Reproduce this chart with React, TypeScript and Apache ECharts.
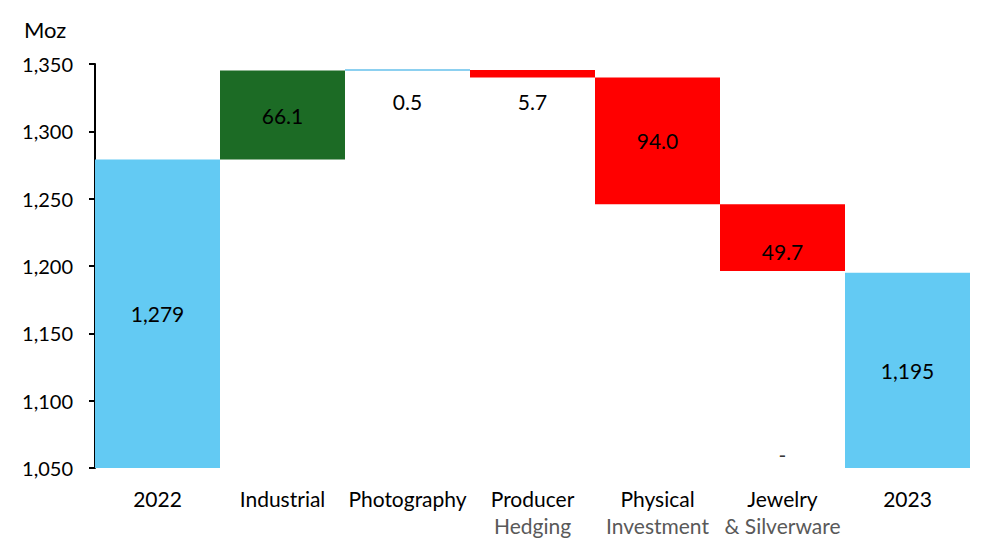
import React, { useEffect, useRef } from "react";
import * as echarts from "echarts";

const categories = ["2022", "Industrial", "Photography", "Producer\nHedging", "Physical\nInvestment", "Jewelry\n& Silverware", "2023"];
const startValue = 1279;
const changes = [66.1, 0.5, -5.7, -94.0, -49.7];
const endValue = 1195;
const changeLabels = ["66.1", "0.5", "5.7", "94.0", "49.7"];
const yTicks = [1050, 1100, 1150, 1200, 1250, 1300, 1350];
const dashMarker = { category: "Jewelry\n& Silverware", value: 1060, text: "-" };

const BLUE = "#63CAF3";
const GREEN = "#1C6B25";
const RED = "#FF0000";
const THIN = "#1BA1E2";
const FONT = "Lato";

export default function App() {
  const ref = useRef<HTMLDivElement>(null);
  useEffect(() => {
    document.body.style.margin = "0";
    const chart = echarts.init(ref.current!, null, { renderer: "svg" });

    const base: any[] = [];
    const vis: any[] = [];
    base.push(0);
    vis.push({
      value: startValue,
      itemStyle: { color: BLUE },
      label: { show: true, position: "inside", formatter: "1,279" },
    });
    let running = startValue;
    changes.forEach((c, i) => {
      const lo = c >= 0 ? running : running + c;
      running += c;
      base.push(lo);
      const color = c >= 0 ? (Math.abs(c) < 1 ? THIN : GREEN) : RED;
      const small = Math.abs(c) < 10;
      const item: any = {
        value: Math.abs(c),
        itemStyle: { color },
        label: small
          ? { show: true, position: "bottom", distance: c >= 0 ? 20 : 13, formatter: changeLabels[i] }
          : { show: true, position: "inside", formatter: changeLabels[i], offset: i === 4 ? [0, 14] : [0, 0] },
      };
      vis.push(item);
    });
    base.push(0);
    vis.push({
      value: endValue,
      itemStyle: { color: BLUE },
      label: { show: true, position: "inside", formatter: "1,195" },
    });

    chart.setOption({
      animation: false,
      textStyle: { fontFamily: FONT },
      title: {
        text: "Moz",
        left: 19,
        top: 13,
        textStyle: { fontFamily: FONT, fontSize: 22, fontWeight: "normal", color: "#000" },
      },
      grid: { left: 95, right: 14, top: 64, bottom: 70 },
      xAxis: {
        type: "category",
        data: categories,
        axisLine: { show: false },
        axisTick: { show: false },
        axisLabel: {
          interval: 0,
          margin: 17,
          formatter: (v: string) => {
            const parts = v.split("\n");
            return parts.length > 1 ? `{a|${parts[0]}}\n{b|${parts[1]}}` : `{a|${parts[0]}}`;
          },
          rich: {
            a: { fontFamily: FONT, fontSize: 21, color: "#000", lineHeight: 27 },
            b: { fontFamily: FONT, fontSize: 21, color: "#595959", lineHeight: 27 },
          },
        },
      },
      yAxis: {
        type: "value",
        min: yTicks[0],
        max: yTicks[yTicks.length - 1],
        interval: 50,
        splitLine: { show: false },
        axisLine: { show: true, lineStyle: { color: "#000", width: 2 } },
        axisTick: { show: true, length: 6, lineStyle: { color: "#000", width: 2 } },
        axisLabel: {
          margin: 22,
          color: "#000",
          fontFamily: FONT,
          fontSize: 20,
          formatter: (v: number) => v.toLocaleString("en-US"),
        },
      },
      series: [
        {
          type: "bar",
          stack: "w",
          data: base,
          barWidth: "100%",
          itemStyle: { color: "transparent" },
          silent: true,
        },
        {
          type: "bar",
          stack: "w",
          data: vis,
          barWidth: "100%",
          barMinHeight: 1,
          label: { fontFamily: FONT, fontSize: 21, color: "#000" },
        },
        {
          type: "scatter",
          data: [[dashMarker.category, dashMarker.value]],
          symbolSize: 0,
          label: {
            show: true,
            position: "inside",
            formatter: dashMarker.text,
            fontFamily: FONT,
            fontSize: 21,
            color: "#000",
          },
        },
      ],
    });
    return () => chart.dispose();
  }, []);
  return <div ref={ref} style={{ width: 984, height: 538, position: "absolute", left: 0, top: 0 }} />;
}
